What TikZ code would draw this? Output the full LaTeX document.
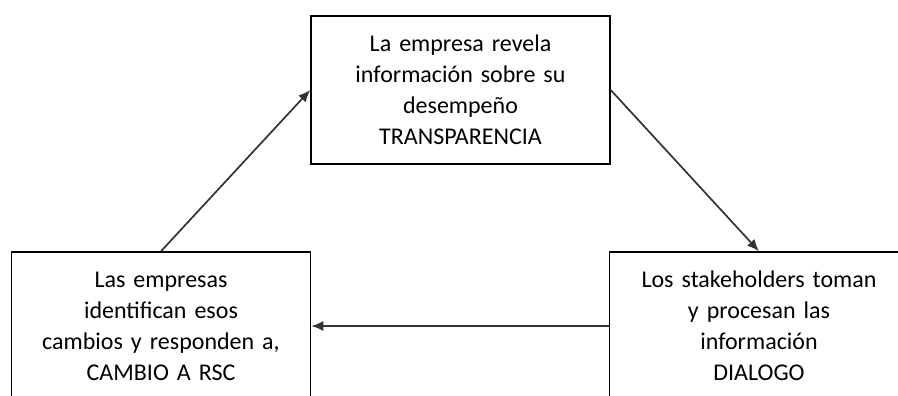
\documentclass[tikz,border=0pt]{standalone}
\usepackage{fontspec}
\setmainfont[WordSpace=0.85]{Carlito}
\usetikzlibrary{arrows.meta}
\begin{document}
\begin{tikzpicture}[
    x=1pt, y=-1pt,
    font=\fontsize{24}{31}\selectfont,
    block/.style={rectangle, draw=black, line width=1.5pt, fill=white, text width=294pt, align=center, minimum width=299pt, minimum height=148pt, inner sep=0pt},
    arrow/.style={-{Latex[length=12pt,width=10pt]}, line width=1.7pt, black!80},
]
    \useasboundingbox (0,0) rectangle (898,396);
    \clip (0,0) rectangle (898,396);

    % Three steps of the cycle
    \node[block] (transparencia) at (460.5,90) {La empresa revela \\ información sobre su \\ desempeño \\ TRANSPARENCIA};
    \node[block] (dialogo) at (759,326) {Los stakeholders toman \\ y procesan las \\ información \\ DIALOGO};
    \node[block] (cambio) at (161,326) {Las empresas \\ identifican esos \\ cambios y responden a, \\ CAMBIO A RSC};

    % Arrows around the cycle
    \draw[arrow] (transparencia.east) -- (dialogo.north);
    \draw[arrow] (dialogo.west) -- (cambio.east);
    \draw[arrow] (cambio.north) -- (transparencia.west);

\end{tikzpicture}
\end{document}
